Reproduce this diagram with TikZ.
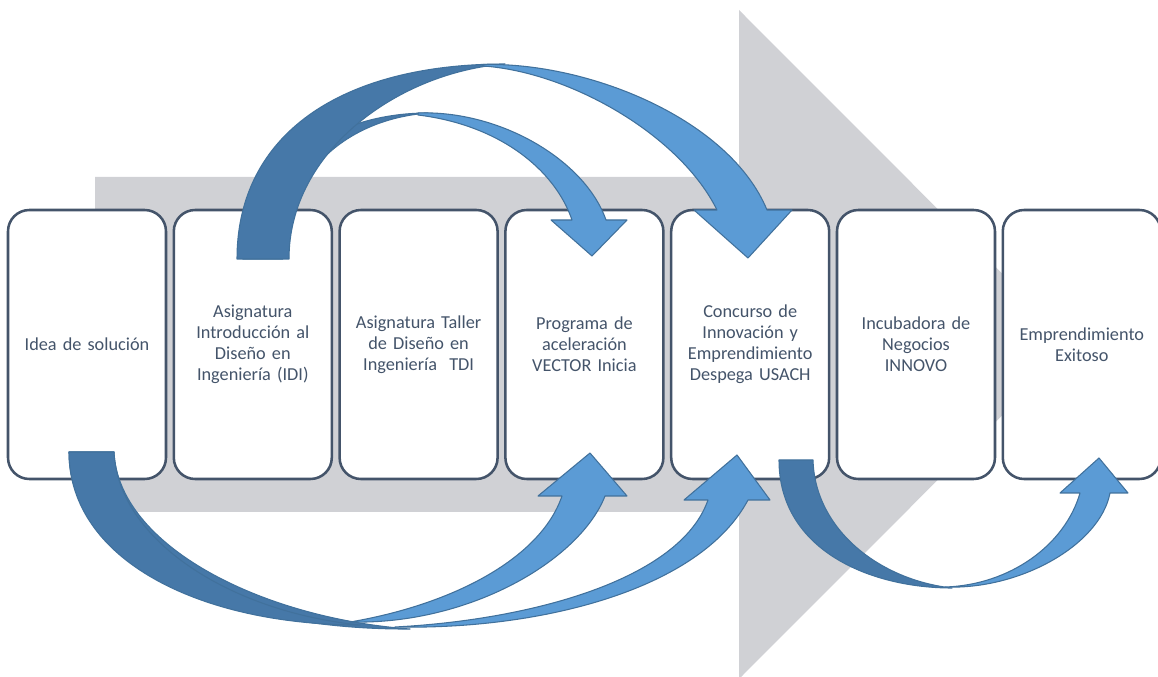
\documentclass[tikz,border=0pt]{standalone}
\usepackage{fontspec}
\setmainfont{Carlito}
\usetikzlibrary{calc}
\definecolor{grisFondo}{RGB}{208,209,213}
\definecolor{bordeEtapa}{RGB}{68,84,106}
\definecolor{azulOscuro}{RGB}{70,120,168}
\definecolor{azulClaro}{RGB}{91,155,213}
\definecolor{bordeAzul}{RGB}{65,113,156}
\tikzset{
  etapa/.style={rectangle, rounded corners=16pt, draw=bordeEtapa, line width=1.9pt, fill=white,
    minimum width=118.5pt, minimum height=201.75pt, text width=110pt, inner sep=0pt, outer sep=0pt,
    align=center, text=bordeEtapa, font=\fontsize{13.7}{15.8}\selectfont},
  sombra/.style={fill=azulOscuro, draw=bordeAzul, line width=0.8pt, line join=round},
  frente/.style={fill=azulClaro, draw=bordeAzul, line width=0.8pt, line join=round}
}

\begin{document}
\begin{tikzpicture}[x=0.75pt, y=-0.75pt]
    \useasboundingbox (0,0) rectangle (1158,677);

    % Flecha gris de fondo
    \fill[grisFondo] (95,177) -- (739,177) -- (739,10) -- (1073,344.5) -- (739,679) -- (739,512) -- (95,512) -- cycle;

    % Etapas
    \node[etapa] (e1) at (87,344.5) {Idea de solución};
    \node[etapa] (e2) at (252.8,344.5) {Asignatura\\Introducción al\\Diseño en\\Ingeniería (IDI)};
    \node[etapa] (e3) at (418.6,344.5) {Asignatura Taller\\de Diseño en\\Ingeniería\ \ TDI};
    \node[etapa] (e4) at (584.4,344.5) {Programa de\\aceleración\\VECTOR Inicia};
    \node[etapa] (e5) at (750.2,344.5) {Concurso de\\Innovación y\\Emprendimiento\\Despega USACH};
    \node[etapa] (e6) at (916,344.5) {Incubadora de\\Negocios\\INNOVO};
    \node[etapa] (e7) at (1081.8,344.5) {Emprendimiento\\Exitoso};

    % Flecha superior chica: IDI -> VECTOR
    \draw[sombra] ($(e2.north)+(-10,49)$) .. controls (250,170) and (330,113) .. (428,113)
        .. controls (340,120) and (283,180) .. ($(e2.north)+(30,49)$) -- cycle;
    \draw[frente] (418,113) .. controls (500,110) and (585,160) .. (606,220) -- (627,220)
        -- ($(e4.north)+(7.6,46)$) -- (551,220) -- (572,220)
        .. controls (555,170) and (500,125) .. (418,115) -- cycle;

    % Flecha superior grande: IDI -> Concurso
    \draw[sombra] ($(e2.north)+(-15.8,49)$) .. controls (237,135) and (340,64) .. (505,64)
        .. controls (400,72) and (289,150) .. ($(e2.north)+(36.2,49)$) -- cycle;
    \draw[frente] (483,64.5) .. controls (590,62) and (730,120) .. (767,210) -- (792,210)
        -- ($(e5.north)+(-2.2,48)$) -- (694,210) -- (717,210)
        .. controls (680,135) and (570,72) .. (483,66) -- cycle;

    % Flecha inferior grande: Idea -> Concurso
    \draw[sombra] ($(e1.south)+(-18,-27)$) .. controls (69,565) and (230,630) .. (410,629)
        .. controls (260,618) and (118,545) .. ($(e1.south)+(27,-27)$) -- cycle;
    \draw[frente] (395,627) .. controls (540,630) and (700,590) .. (748,500) -- (770,500)
        -- ($(e5.south)+(-13.2,-24)$) -- (684,500) -- (708,500)
        .. controls (680,580) and (530,620) .. (395,627) -- cycle;

    % Flecha inferior chica: Idea -> VECTOR
    \draw[sombra] ($(e1.south)+(-18,-27)$) .. controls (69,560) and (200,625) .. (360,625)
        .. controls (230,612) and (118,540) .. ($(e1.south)+(27,-27)$) -- cycle;
    \draw[frente] (350,622) .. controls (470,625) and (580,560) .. (605,496) -- (627,496)
        -- ($(e4.south)+(5.6,-26)$) -- (538,496) -- (562,496)
        .. controls (540,560) and (450,605) .. (350,622) -- cycle;

    % Flecha inferior derecha: Concurso -> Emprendimiento
    \draw[sombra] ($(e5.south)+(28.8,-19)$) .. controls (779,550) and (870,588) .. (952,588)
        .. controls (880,580) and (815,530) .. ($(e5.south)+(62.8,-19)$) -- cycle;
    \draw[frente] (945,587) .. controls (1020,590) and (1100,545) .. (1110,493) -- (1128,493)
        -- ($(e7.south)+(17.2,-21)$) -- (1060,493) -- (1080,493)
        .. controls (1065,545) and (1010,585) .. (945,587) -- cycle;
\end{tikzpicture}
\end{document}
